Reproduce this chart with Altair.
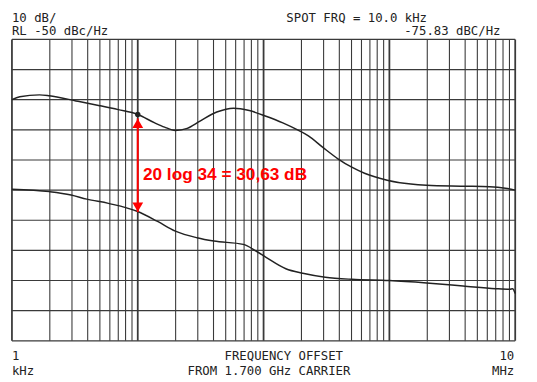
import altair as alt
import pandas as pd

# ---- data (offset frequency in Hz, level in dBc/Hz) ----
upper_freq = [1000, 1155, 1656, 1983, 3225, 4883, 7000, 10000, 13650, 16340, 19910,
              24720, 31250, 42460, 57700, 76940, 104600, 142200, 189700, 227100,
              297600, 390000, 502000, 634400, 960500, 1479000, 1976000, 3848000,
              6264000, 8358000, 10000000]
upper_db = [-70.0, -69.0, -68.4, -68.7, -70.4, -71.9, -73.3, -74.9, -77.7, -79.1, -80.2,
            -79.5, -77.1, -74.1, -72.8, -73.6, -75.5, -77.7, -80.2, -82.0,
            -85.9, -89.6, -92.4, -94.4, -96.7, -98.0, -98.4, -98.7,
            -98.9, -99.4, -100.0]

lower_freq = [1000, 1983, 2950, 3932, 5848, 10000, 14380, 19910, 29550, 40210, 68940,
              87020, 104600, 150300, 204800, 309300, 502000, 995000, 1976000, 3848000,
              6971000, 9036000, 9525000, 10000000]
lower_db = [-99.7, -100.5, -101.6, -103.0, -104.4, -107.1, -110.4, -113.6, -115.8, -116.9, -118.0,
            -120.2, -122.3, -126.1, -127.6, -128.9, -129.6, -130.0, -130.8, -131.8,
            -132.7, -132.9, -132.7, -134.3]

marker_freq = [10000]
marker_db = [-74.9]

arrow_freq = [10000]
arrow_top_db = [-76.2]
arrow_bottom_db = [-107.3]

grid_freq = [m * 10 ** e for e in range(3, 7) for m in range(1, 10)] + [10 ** 7]
grid_db = [-50, -60, -70, -80, -90, -100, -110, -120, -130, -140, -150]

header_left = ["10 dB/", "RL -50 dBc/Hz"]
header_right = ["SPOT FRQ =   10.0 kHz", "-75.83 dBC/Hz"]
footer_left = ["1", "kHz"]
footer_mid = ["FREQUENCY OFFSET", "FROM  1.700 GHz CARRIER"]
footer_right = ["10", "MHz"]
annotation = "20 log 34 = 30,63 dB"

W, H = 511, 306
xs = alt.Scale(type="log", domain=[1000, 10000000], nice=False)
ys = alt.Scale(domain=[-150, -50], nice=False, zero=False)

curves = pd.concat([
    pd.DataFrame({"f": upper_freq, "db": upper_db, "trace": "upper"}),
    pd.DataFrame({"f": lower_freq, "db": lower_db, "trace": "lower"}),
])

vgrid = alt.Chart(pd.DataFrame({"f": grid_freq})).mark_rule(color="#3a3a3a").encode(
    x=alt.X("f:Q", scale=xs, axis=None),
    y=alt.value(0), y2=alt.value(H),
    strokeWidth=alt.condition(
        "abs(log(datum.f)/LN10 - round(log(datum.f)/LN10)) < 0.001",
        alt.value(1.8), alt.value(1.1)),
)

hgrid = alt.Chart(pd.DataFrame({"db": grid_db})).mark_rule(color="#3a3a3a", strokeWidth=1.2).encode(
    y=alt.Y("db:Q", scale=ys, axis=None),
    x=alt.value(0), x2=alt.value(W),
)

lines = alt.Chart(curves).mark_line(color="#222222", strokeWidth=1.5, interpolate="monotone").encode(
    x=alt.X("f:Q", scale=xs, axis=None),
    y=alt.Y("db:Q", scale=ys, axis=None),
    detail="trace:N",
)

marker = alt.Chart(pd.DataFrame({"f": marker_freq, "db": marker_db})).mark_point(
    filled=True, color="#222222", size=30, opacity=1).encode(
    x=alt.X("f:Q", scale=xs, axis=None), y=alt.Y("db:Q", scale=ys, axis=None))

arrow_df = pd.DataFrame({"f": arrow_freq, "top": arrow_top_db, "bottom": arrow_bottom_db})
arrow_line = alt.Chart(arrow_df).mark_rule(color="#ff0000", strokeWidth=2).encode(
    x=alt.X("f:Q", scale=xs, axis=None),
    y=alt.Y("top:Q", scale=ys, axis=None), y2="bottom:Q")
head_top = alt.Chart(arrow_df).mark_point(shape="triangle-up", filled=True, color="#ff0000",
                                          size=120, opacity=1, yOffset=5).encode(
    x=alt.X("f:Q", scale=xs, axis=None), y=alt.Y("top:Q", scale=ys, axis=None))
head_bot = alt.Chart(arrow_df).mark_point(shape="triangle-down", filled=True, color="#ff0000",
                                          size=120, opacity=1, yOffset=-5).encode(
    x=alt.X("f:Q", scale=xs, axis=None), y=alt.Y("bottom:Q", scale=ys, axis=None))

ann = alt.Chart(pd.DataFrame({"t": [annotation]})).mark_text(
    align="left", baseline="alphabetic", font="Liberation Sans", fontWeight="bold",
    fontSize=17.5, color="#ff0000").encode(x=alt.value(133), y=alt.value(142.5), text="t:N")


def label(txt, x, y, align):
    return alt.Chart(pd.DataFrame({"t": [txt]})).mark_text(
        align=align, baseline="middle", font="DejaVu Sans Mono", fontSize=12.5,
        color="#222222").encode(x=alt.value(x), y=alt.value(y), text="t:N")


texts = [
    label(header_left[0], 0, -22, "left"),
    label(header_left[1], 0, -8, "left"),
    label(header_right[0], 350, -22, "center"),
    label(header_right[1], 496, -8, "right"),
    label(footer_left[0], 0, 322, "left"),
    label(footer_left[1], 0, 337, "left"),
    label(footer_mid[0], 276, 322, "center"),
    label(footer_mid[1], 261, 337, "center"),
    label(footer_right[0], 510, 322, "right"),
    label(footer_right[1], 510, 337, "right"),
]

chart = alt.layer(vgrid, hgrid, lines, marker, arrow_line, head_top, head_bot, ann, *texts).properties(
    width=W, height=H,
    autosize=alt.AutoSizeParams(type="none"),
    padding={"left": 4, "top": 29, "right": 14, "bottom": 44},
    background="white",
).configure_view(strokeWidth=0)

chart.save("out.html", embed_options={"renderer": "svg", "actions": False})
